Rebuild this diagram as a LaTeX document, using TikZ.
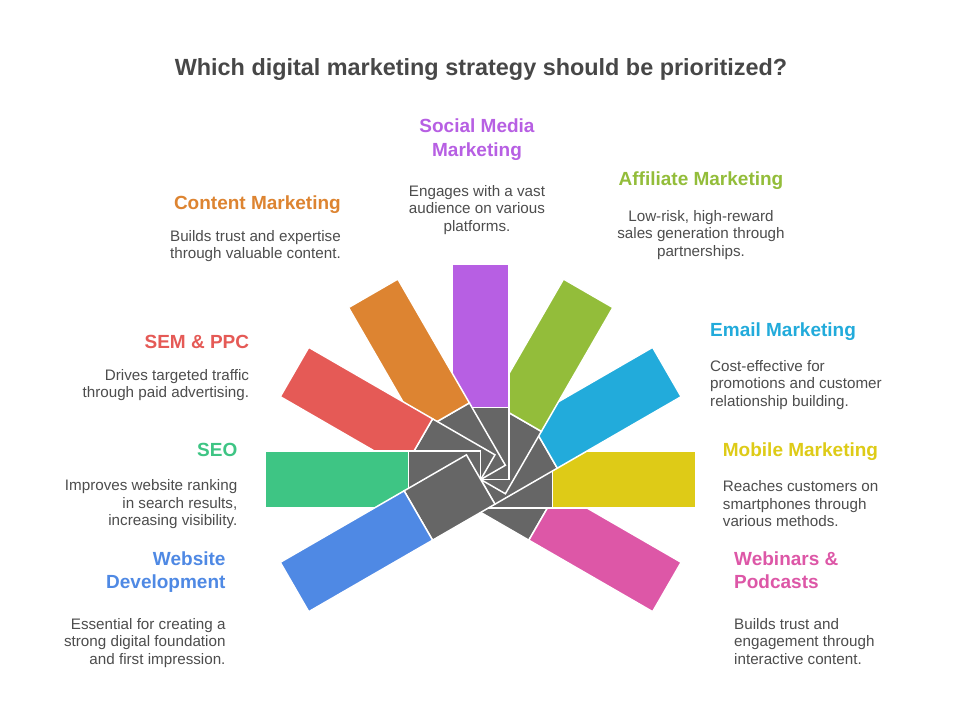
\documentclass[tikz,border=0pt]{standalone}
\usepackage{fontspec}
\setmainfont{Liberation Sans}

\definecolor{contentc}{HTML}{DD8431}
\definecolor{socialc}{HTML}{B75FE3}
\definecolor{affiliatec}{HTML}{93BD3A}
\definecolor{emailc}{HTML}{22ABDB}
\definecolor{mobilec}{HTML}{DECB17}
\definecolor{webinarc}{HTML}{DD57A7}
\definecolor{websitec}{HTML}{4F89E4}
\definecolor{seoc}{HTML}{3EC584}
\definecolor{semc}{HTML}{E55A56}
\definecolor{bladegray}{HTML}{666666}
\definecolor{textgray}{HTML}{4D4D4D}
\definecolor{titlegray}{HTML}{474747}

\tikzset{
  blade/.style={draw=white, line width=1.5pt},
  heading/.style={font=\fontsize{19}{23.5}\selectfont\bfseries, inner sep=0pt},
  desc/.style={font=\fontsize{15.2}{17.5}\selectfont, text=textgray, inner sep=0pt},
}

\begin{document}
\begin{tikzpicture}[x=1pt, y=-1pt]
\useasboundingbox[fill=white] (0,0) rectangle (960,701);

\node[font=\fontsize{23.4}{28}\selectfont\bfseries, text=titlegray, inner sep=0pt, anchor=base] (title) at (481,75) {Which digital marketing strategy should be prioritized?};

% fan, lowest blade first
\coordinate (pivot) at (480.7,479.5);
\begin{scope}[shift={(pivot)}, rotate=-30]
\filldraw[blade, fill=bladegray] (0,-28.5) rectangle (72,28.5);
\filldraw[blade, fill=webinarc] (72,-28.5) rectangle (215,28.5);
\end{scope}
\begin{scope}[shift={(pivot)}, rotate=0]
\filldraw[blade, fill=bladegray] (0,-28.5) rectangle (72,28.5);
\filldraw[blade, fill=mobilec] (72,-28.5) rectangle (215,28.5);
\end{scope}
\begin{scope}[shift={(pivot)}, rotate=30]
\filldraw[blade, fill=bladegray] (0,-28.5) rectangle (72,28.5);
\filldraw[blade, fill=emailc] (72,-28.5) rectangle (215,28.5);
\end{scope}
\begin{scope}[shift={(pivot)}, rotate=60]
\filldraw[blade, fill=bladegray] (0,-28.5) rectangle (72,28.5);
\filldraw[blade, fill=affiliatec] (72,-28.5) rectangle (215,28.5);
\end{scope}
\begin{scope}[shift={(pivot)}, rotate=90]
\filldraw[blade, fill=bladegray] (0,-28.5) rectangle (72,28.5);
\filldraw[blade, fill=socialc] (72,-28.5) rectangle (215,28.5);
\end{scope}
\begin{scope}[shift={(pivot)}, rotate=120]
\filldraw[blade, fill=bladegray] (0,-28.5) rectangle (72,28.5);
\filldraw[blade, fill=contentc] (72,-28.5) rectangle (215,28.5);
\end{scope}
\begin{scope}[shift={(pivot)}, rotate=150]
\filldraw[blade, fill=bladegray] (0,-28.5) rectangle (72,28.5);
\filldraw[blade, fill=semc] (72,-28.5) rectangle (215,28.5);
\end{scope}
\begin{scope}[shift={(pivot)}, rotate=180]
\filldraw[blade, fill=bladegray] (0,-28.5) rectangle (72,28.5);
\filldraw[blade, fill=seoc] (72,-28.5) rectangle (215,28.5);
\end{scope}
\begin{scope}[shift={(pivot)}, rotate=210]
\filldraw[blade, fill=bladegray] (0,-28.5) rectangle (72,28.5);
\filldraw[blade, fill=websitec] (72,-28.5) rectangle (215,28.5);
\end{scope}

% left side (multi-line nodes sit on their last baseline)
\node[heading, text=contentc, anchor=base east] (contenthead) at (341,209.3) {Content Marketing};
\node[desc, align=right, anchor=base east] (contenttext) at (341,258.5) {Builds trust and expertise\\through valuable content.};

\node[heading, text=semc, anchor=base east] (semhead) at (249.3,348.3) {SEM \& PPC};
\node[desc, align=right, anchor=base east] (semtext) at (249.3,397.5) {Drives targeted traffic\\through paid advertising.};

\node[heading, text=seoc, anchor=base east] (seohead) at (237.5,456.7) {SEO};
\node[desc, align=right, anchor=base east] (seotext) at (237.5,525.7) {Improves website ranking\\in search results,\\increasing visibility.};

\node[heading, text=websitec, align=right, anchor=base east] (websitehead) at (225.7,588.5) {Website\\Development};
\node[desc, align=right, anchor=base east] (websitetext) at (225.7,664.3) {Essential for creating a\\strong digital foundation\\and first impression.};

% top
\node[heading, text=socialc, align=center, anchor=base] (socialhead) at (477,156) {Social Media\\Marketing};
\node[desc, align=center, anchor=base] (socialtext) at (477,231) {Engages with a vast\\audience on various\\platforms.};

% right side
\node[heading, text=affiliatec, anchor=base] (affiliatehead) at (701,185.7) {Affiliate Marketing};
\node[desc, align=center, anchor=base] (affiliatetext) at (701,256) {Low-risk, high-reward\\sales generation through\\partnerships.};

\node[heading, text=emailc, anchor=base west] (emailhead) at (710,336.7) {Email Marketing};
\node[desc, align=left, anchor=base west] (emailtext) at (710,406) {Cost-effective for\\promotions and customer\\relationship building.};

\node[heading, text=mobilec, anchor=base west] (mobilehead) at (722.7,456.7) {Mobile Marketing};
\node[desc, align=left, anchor=base west] (mobiletext) at (722.7,526.7) {Reaches customers on\\smartphones through\\various methods.};

\node[heading, text=webinarc, align=left, anchor=base west] (webinarhead) at (734,588.5) {Webinars \&\\Podcasts};
\node[desc, align=left, anchor=base west] (webinartext) at (734,664.3) {Builds trust and\\engagement through\\interactive content.};

\end{tikzpicture}
\end{document}
